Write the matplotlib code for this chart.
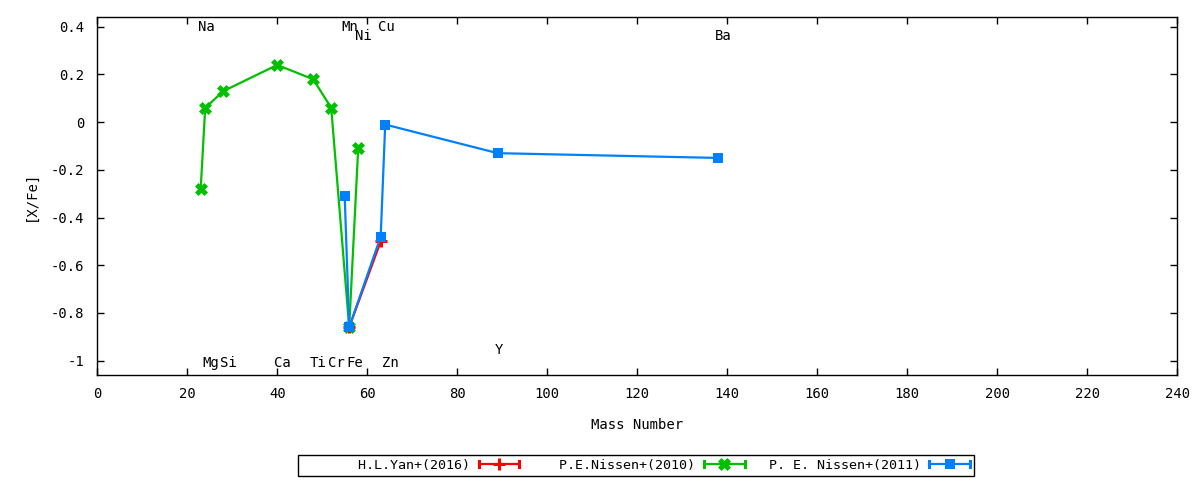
import matplotlib
matplotlib.use("Agg")
import matplotlib.pyplot as plt
from matplotlib.lines import Line2D
from matplotlib.legend_handler import HandlerLine2D

plt.rcParams['font.family'] = ['DejaVu Sans Mono']
plt.rcParams['font.size'] = 10

# H.L.Yan+(2016)
yan_mass = [56, 63]
yan_xfe = [-0.86, -0.50]

# P.E.Nissen+(2010)
nis10_mass = [23, 24, 28, 40, 48, 52, 56, 58]
nis10_xfe = [-0.28, 0.06, 0.13, 0.24, 0.18, 0.06, -0.86, -0.11]

# P. E. Nissen+(2011)
nis11_mass = [55, 56, 63, 64, 89, 138]
nis11_xfe = [-0.31, -0.86, -0.48, -0.01, -0.13, -0.15]

# element labels
elem_names = ['Na', 'Mg', 'Si', 'Ca', 'Ti', 'Cr', 'Mn', 'Fe', 'Ni', 'Cu', 'Zn', 'Y', 'Ba']
elem_mass = [23, 24, 28, 40, 48, 52, 55, 56, 58, 63, 64, 89, 138]
elem_ypos = [0.40, -1.01, -1.01, -1.01, -1.01, -1.01, 0.40, -1.01, 0.36, 0.40, -1.01, -0.955, 0.36]


class CapHandler(HandlerLine2D):
    # gnuplot style errorbar key sample: line with caps at both ends
    def create_artists(self, legend, orig_handle, xdescent, ydescent,
                       width, height, fontsize, trans):
        artists = super().create_artists(legend, orig_handle, xdescent, ydescent,
                                         width, height, fontsize, trans)
        yc = height / 2.0 - ydescent
        h = height * 0.3
        for xx in (-xdescent, width - xdescent):
            artists.append(Line2D([xx, xx], [yc - h, yc + h],
                                  color=orig_handle.get_color(), lw=2.2,
                                  transform=trans))
        return artists


fig = plt.figure(figsize=(12, 4.8), dpi=100)
ax = fig.add_axes([0.081, 0.219, 0.9, 0.746])

l1, = ax.plot(yan_mass, yan_xfe, color='#ff0000', lw=1.6, marker='+',
              ms=8, mew=2.2, label='H.L.Yan+(2016)')
l2, = ax.plot(nis10_mass, nis10_xfe, color='#00c000', lw=1.6, marker='X',
              ms=8, mew=0.5, label='P.E.Nissen+(2010)')
l3, = ax.plot(nis11_mass, nis11_xfe, color='#0080ff', lw=1.6, marker='s',
              ms=7.5, mew=0, label='P. E. Nissen+(2011)')

for name, m, yy in zip(elem_names, elem_mass, elem_ypos):
    ax.text(m - 0.7, yy, name, ha='left', va='center')

ax.set_xlim(0, 240)
ax.set_ylim(-1.06, 0.442)
ax.set_xticks(range(0, 241, 20))
ax.set_yticks([-1, -0.8, -0.6, -0.4, -0.2, 0, 0.2, 0.4])
ax.set_yticklabels(['-1', '-0.8', '-0.6', '-0.4', '-0.2', '0', '0.2', '0.4'])
ax.tick_params(axis='x', direction='in', top=True, length=5, width=1, pad=9)
ax.tick_params(axis='y', direction='in', right=True, length=5, width=1, pad=9.5)
for s in ax.spines.values():
    s.set_linewidth(1)

ax.set_xlabel('Mass Number', labelpad=12)
ax.set_ylabel('[X/Fe]', labelpad=9.5)

# right-aligned key text like gnuplot (monospace, pad to same width)
handles = [l1, l2, l3]
width = max(len(h.get_label()) for h in handles) + 2
key_labels = [h.get_label().rjust(width) for h in handles]

leg = fig.legend(handles=handles, labels=key_labels, loc='center', ncol=3,
                 bbox_to_anchor=(636 / 1200, 1 - 465 / 480),
                 prop={'family': 'DejaVu Sans Mono', 'size': 9.6},
                 markerfirst=False, numpoints=1, handlelength=3.05,
                 columnspacing=0.6, handletextpad=0.65, borderpad=0.3,
                 borderaxespad=0, fancybox=False, framealpha=1,
                 edgecolor='black', handler_map={Line2D: CapHandler()})
leg.get_frame().set_linewidth(1)

fig.savefig('out.png', dpi=100)
